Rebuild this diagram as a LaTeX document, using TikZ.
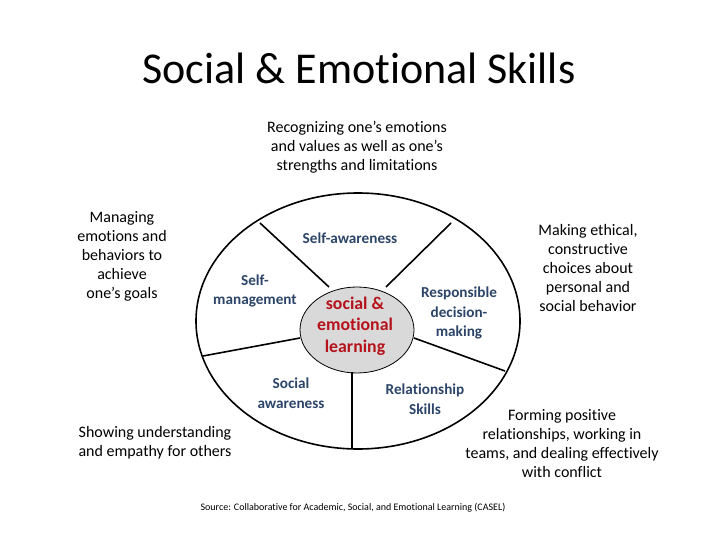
\documentclass[tikz,border=0pt]{standalone}
\usepackage{fontspec}
\setmainfont{Carlito}[RawFeature={-liga;-dlig;-clig}]
\usetikzlibrary{shapes.geometric}
\definecolor{segblue}{HTML}{2B4468}
\definecolor{selred}{HTML}{B5121B}
\definecolor{innergray}{HTML}{D9D9D9}
\tikzset{
  body/.style={align=center, font=\fontsize{16}{19}\selectfont, inner sep=0pt},
  seglabel/.style={align=center, font=\fontsize{15.2}{19.5}\selectfont\bfseries, text=segblue, inner sep=0pt},
  divider/.style={draw=black, line width=1.6pt},
}
\begin{document}
\begin{tikzpicture}[x=1pt,y=-1pt]
\useasboundingbox (0,0) rectangle (720,540);
\node[font=\fontsize{44}{50}\selectfont, inner sep=0pt] (title) at (359,68) {Social \& Emotional Skills};

\node[ellipse, draw=black, line width=1.6pt, minimum width=324pt, minimum height=256pt, inner sep=0pt] (outer) at (358,321) {};
\node[ellipse, draw=black, line width=0.8pt, fill=innergray, minimum width=114pt, minimum height=86pt, inner sep=0pt] (inner) at (357,330) {};

\coordinate (i1) at (329,287);
\coordinate (o1) at (260,223);
\coordinate (i2) at (386,287);
\coordinate (o2) at (451,223);
\coordinate (i3) at (300,338);
\coordinate (o3) at (203,356);
\coordinate (i4) at (414,338);
\coordinate (o4) at (505,371);
\coordinate (i5) at (352,372);
\coordinate (o5) at (352,449);
\draw[divider] (i1) -- (o1);
\draw[divider] (i2) -- (o2);
\draw[divider] (i3) -- (o3);
\draw[divider] (i4) -- (o4);
\draw[divider] (i5) -- (o5);

\node[align=center, font=\fontsize{17.8}{21.5}\selectfont\bfseries, text=selred, inner sep=0pt] (sel) at (355,326) {social \&\\emotional\\learning};

\node[seglabel] (sa) at (350,238) {Self-awareness};
\node[seglabel] (sm) at (255,291) {Self-\\management};
\node[seglabel] (rd) at (459,313) {Responsible\\decision-\\making};
\node[seglabel] (soc) at (291,393) {Social\\awareness};
\node[seglabel] (rs) at (425,399) {Relationship\\Skills};

\node[body] (t1) at (357,147) {Recognizing one’s emotions\\and values as well as one’s\\strengths and limitations};
\node[body] (t2) at (122,256) {Managing\\emotions and\\behaviors to\\achieve\\one’s goals};
\node[body] (t3) at (588,268) {Making ethical,\\constructive\\choices about\\personal and\\social behavior};
\node[body] (t4) at (155,443) {Showing understanding\\and empathy for others};
\node[body] (t5) at (562,444) {Forming positive\\relationships, working in\\teams, and dealing effectively\\with conflict};
\node[font=\fontsize{10}{12}\selectfont, inner sep=0pt] (src) at (353,508) {Source: Collaborative for Academic, Social, and Emotional Learning (CASEL)};
\end{tikzpicture}
\end{document}
